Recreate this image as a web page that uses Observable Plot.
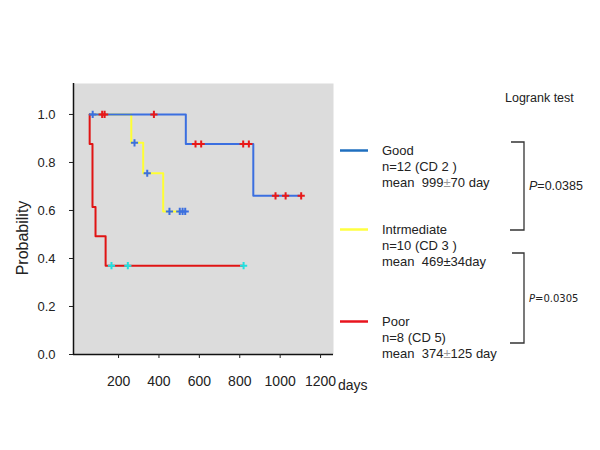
<!DOCTYPE html>
<html><head><meta charset="utf-8">
<script src="https://cdn.jsdelivr.net/npm/d3@7"></script>
<script src="https://cdn.jsdelivr.net/npm/@observablehq/plot@0.6"></script>
<style>
body{margin:0;background:#fff;}
svg{font-family:"Liberation Sans",Arial,sans-serif;}
</style>
</head><body><div id="chart"></div>
<script>
// Kaplan–Meier step data (days, survival probability)
const goodDays = [57, 533, 867, 1104];
const goodSurv = [1.0, 0.877, 0.661, 0.661];
const goodCensorDays = [119, 131, 375, 581, 609, 817, 845, 977, 1027, 1104];
const goodCensorSurv = [1.0, 1.0, 1.0, 0.877, 0.877, 0.877, 0.877, 0.661, 0.661, 0.661];

const interDays = [57, 263, 322, 421, 530];
const interSurv = [1.0, 0.882, 0.755, 0.596, 0.596];
const interCensorDays = [72, 279, 342, 452, 503, 517, 530];
const interCensorSurv = [1.0, 0.882, 0.755, 0.596, 0.596, 0.596, 0.596];

const poorDays = [57, 57, 71, 86, 136, 817];
const poorSurv = [1.0, 0.877, 0.614, 0.493, 0.37, 0.37];
const poorCensorDays = [165, 246, 819];
const poorCensorSurv = [0.37, 0.37, 0.37];

const xTicks = [200, 400, 600, 800, 1000, 1200];
const yTicks = [0, 0.2, 0.4, 0.6, 0.8, 1.0];

const legendNames = ["Good", "Intrmediate", "Poor"];
const legendN = ["n=12 (CD 2 )", "n=10 (CD 3 )", "n=8 (CD 5)"];
const legendMean = [["mean  999", "±", "70 day"], ["mean  469±34day", "", ""], ["mean  374", "±", "125 day"]];
const legendColors = ["#1f6fbf", "#ffff40", "#e8141e"];
const pValues = ["0.0385", "0.0305"];

const toRows = (days, surv) => days.map((d, i) => ({d, s: surv[i]}));

const plusSymbol = {
  draw(ctx, size) {
    const r = Math.sqrt(size / Math.PI);
    ctx.moveTo(-r, 0); ctx.lineTo(r, 0);
    ctx.moveTo(0, -r); ctx.lineTo(0, r);
  }
};

const lineOpts = {x: "d", y: "s", curve: "step-after", strokeWidth: 2};
const dotOpts = {x: "d", y: "s", symbol: plusSymbol, r: 3.6, fill: "none", strokeWidth: 2};

const chart = Plot.plot({
  width: 600, height: 450,
  marginLeft: 73, marginRight: 267, marginTop: 83, marginBottom: 96,
  x: {domain: [-23, 1264]},
  y: {domain: [0, 1.129]},
  style: {fontFamily: "'Liberation Sans', Arial, sans-serif", color: "#222", background: "#fff"},
  marks: [
    Plot.frame({fill: "#dcdcdc", stroke: null}),
    Plot.line(toRows(interDays, interSurv), {...lineOpts, stroke: "#ffff33"}),
    Plot.line(toRows(goodDays, goodSurv), {...lineOpts, stroke: "#3b6fe0"}),
    Plot.line(toRows(poorDays, poorSurv), {...lineOpts, stroke: "#e01414"}),
    Plot.dot(toRows(goodCensorDays, goodCensorSurv), {...dotOpts, stroke: "#e81818"}),
    Plot.dot(toRows(interCensorDays, interCensorSurv), {...dotOpts, stroke: "#3b6fe0"}),
    Plot.dot(toRows(poorCensorDays, poorCensorSurv), {...dotOpts, stroke: "#22e0e0"}),
    Plot.ruleX([-23], {stroke: "#111", strokeWidth: 1.5}),
    Plot.ruleY([0], {stroke: "#111", strokeWidth: 1.5}),
    Plot.axisY({ticks: yTicks, tickFormat: d => d.toFixed(1), tickSize: 4, tickPadding: 14, fontSize: 13, label: null, color: "#222"}),
    Plot.axisX({ticks: xTicks, tickFormat: d => String(d), tickSize: 4, tickPadding: 18, fontSize: 14, label: null, color: "#222"})
  ]
});

document.getElementById("chart").appendChild(chart);

const svg = d3.select(chart);
const g = svg.append("g").attr("fill", "#222").attr("text-anchor", "start");

// axis titles
g.append("text").attr("transform", "translate(22,238) rotate(-90)")
  .attr("text-anchor", "middle").attr("dy", "0.35em").attr("font-size", 16).text("Probability");
g.append("text").attr("x", 338).attr("y", 385).attr("dy", "0.35em").attr("font-size", 14).text("days");

// Logrank title
g.append("text").attr("x", 505).attr("y", 98).attr("dy", "0.35em").attr("font-size", 12.5).text("Logrank test");

// legend
const legendY = [150.5, 229.5, 321.5];
legendNames.forEach((name, i) => {
  const y0 = legendY[i];
  g.append("line").attr("x1", 340).attr("x2", 368).attr("y1", y0).attr("y2", y0)
    .attr("stroke", legendColors[i]).attr("stroke-width", 2.5);
  g.append("text").attr("x", 382).attr("y", y0).attr("dy", "0.35em").attr("font-size", 13).text(name);
  g.append("text").attr("x", 382).attr("y", y0 + 16).attr("dy", "0.35em").attr("font-size", 13).text(legendN[i]);
  const t = g.append("text").attr("x", 382).attr("y", y0 + 32).attr("dy", "0.35em").attr("font-size", 13)
    .attr("xml:space", "preserve").style("white-space", "pre");
  t.append("tspan").text(legendMean[i][0]);
  if (legendMean[i][1]) t.append("tspan").attr("fill", "#999").text(legendMean[i][1]);
  if (legendMean[i][2]) t.append("tspan").text(legendMean[i][2]);
});

// brackets
const brackets = [[142, 230, 511], [253, 343, 512]];
brackets.forEach(([y1, y2, xs], i) => {
  g.append("path").attr("d", `M${xs},${y1}H524V${y2}H510`)
    .attr("fill", "none").attr("stroke", "#333").attr("stroke-width", 1.3);
});
const p1 = g.append("text").attr("x", 529).attr("y", 186).attr("dy", "0.35em").attr("font-size", 12.5);
p1.append("tspan").attr("font-style", "italic").text("P");
p1.append("tspan").text("=" + pValues[0]);
const p2 = g.append("text").attr("x", 529).attr("y", 298).attr("dy", "0.35em").attr("font-size", 10)
  .attr("font-family", "'DejaVu Sans', sans-serif");
p2.append("tspan").attr("font-style", "italic").text("P");
p2.append("tspan").text("=" + pValues[1]);
</script>
</body></html>
